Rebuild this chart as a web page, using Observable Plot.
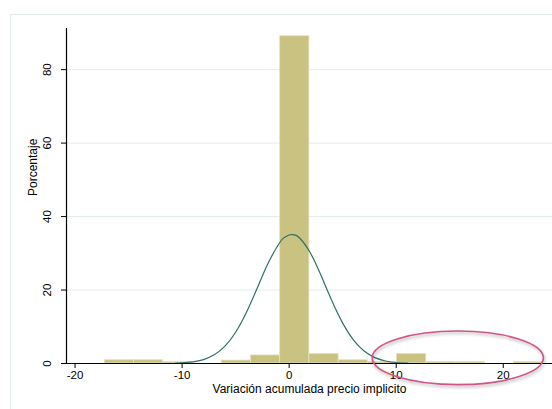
<!DOCTYPE html>
<html>
<head>
<meta charset="utf-8">
<script src="https://cdn.jsdelivr.net/npm/d3@7"></script>
<script src="https://cdn.jsdelivr.net/npm/@observablehq/plot@0.6"></script>
<style>
  html, body { margin: 0; padding: 0; background: #fff; }
  #wrap { position: relative; width: 552px; height: 409px; overflow: hidden; background: #fff; }
  #panel { position: absolute; left: 10px; top: 14px; width: 600px; height: 500px; border: 1px solid #e2ecec; box-sizing: border-box; pointer-events: none; }
  #chart { position: absolute; left: 0; top: 0; }
  #chart svg { background: transparent; }
</style>
</head>
<body>
<div id="wrap"><div id="panel"></div><div id="chart"></div></div>
<script>
// Histogram bins (left edges) and percentages
const binStart = [-17.22, -14.49, -11.76, -9.03, -6.30, -3.57, -0.84, 1.89, 4.62, 7.35, 10.08, 12.81, 15.54, 18.27, 21.00];
const binPct   = [0.9, 0.9, 0.4, 0.0, 0.8, 2.2, 89.1, 2.6, 0.9, 0.4, 2.6, 0.4, 0.4, 0.0, 0.4];
const binWidth = 2.73;

// Fitted normal curve
const curveX = [-10.6, -10, -9, -8, -7, -6, -5, -4, -3, -2, -1, -0.5, 0, 0.25, 0.5, 1, 2, 3, 4, 5, 6, 7, 8, 9, 10, 11.1];
const curveY = [0.1, 0.16, 0.43, 1.06, 2.36, 4.72, 8.52, 13.9, 20.4, 27.1, 32.4, 34.2, 35.0, 35.1, 35.0, 34.1, 30.0, 23.8, 17.0, 11.0, 6.42, 3.38, 1.60, 0.69, 0.27, 0.08];

// Axis ticks and labels
const xTicks = [-20, -10, 0, 10, 20];
const yTicks = [0, 20, 40, 60, 80];
const yGrid = [20, 40, 60, 80];
const xLabel = "Variación acumulada precio implicito";
const yLabel = "Porcentaje";

// Highlight annotation (ellipse) in data units
const annoCenter = [15.8, 1.4];
const annoRadius = [8.0, 7.3];

const bars = binStart.map((s, i) => ({x1: s, x2: s + binWidth, y: binPct[i]})).filter(d => d.y > 0);
const curve = curveX.map((x, i) => ({x, y: curveY[i]}));

const font = "'Liberation Sans', Arial, sans-serif";
const xMin = -20.8;

const plot = Plot.plot({
  width: 552,
  height: 409,
  marginLeft: 66,
  marginTop: 28,
  marginBottom: 46,
  marginRight: 0,
  style: {fontFamily: font, fontSize: "11px", color: "#000", background: "transparent"},
  x: {domain: [xMin, 24.6]},
  y: {domain: [0, 91.2]},
  marks: [
    Plot.gridY(yGrid, {stroke: "#e3ecec", strokeOpacity: 1, strokeWidth: 1}),
    Plot.rectY(bars, {x1: "x1", x2: "x2", y: "y", fill: "#c9c280", stroke: "#e6e2bf", strokeWidth: 0.8}),
    Plot.line(curve, {x: "x", y: "y", curve: "natural", stroke: "#2f6f69", strokeWidth: 1.2}),
    Plot.ruleY([0], {stroke: "#000", strokeWidth: 1.2}),
    Plot.ruleX([xMin], {y1: 0, y2: 91.2, stroke: "#000", strokeWidth: 1.2}),
    Plot.axisX(xTicks, {tickSize: 5, tickPadding: 2, fontSize: 11.5, label: null, tickFormat: d => String(d).replace("−", "-")}),
    Plot.axisY(yTicks, {tickSize: 5, tickFormat: () => "", label: null}),
    Plot.text(yTicks, {x: xMin, y: d => d, dx: -19, rotate: -90, text: d => String(d), fontSize: 11.5}),
    Plot.text([xLabel], {frameAnchor: "bottom", dy: 29, text: d => d, fontSize: 12}),
    Plot.text([yLabel], {frameAnchor: "left", dx: -33, rotate: -90, text: d => d, fontSize: 12})
  ]
});

// Draw annotation ellipse using the plot's own scales
const sx = plot.scale("x"), sy = plot.scale("y");
const cx = sx.apply(annoCenter[0]), cy = sy.apply(annoCenter[1]);
const rx = Math.abs(sx.apply(annoCenter[0] + annoRadius[0]) - cx);
const ry = Math.abs(sy.apply(annoCenter[1] + annoRadius[1]) - cy);
d3.select(plot).append("ellipse")
  .attr("cx", cx).attr("cy", cy).attr("rx", rx).attr("ry", ry)
  .attr("fill", "none").attr("stroke", "#d2548a").attr("stroke-width", 1.6)
  .style("filter", "drop-shadow(1px 2px 1.5px rgba(0,0,0,0.3))");

document.getElementById("chart").appendChild(plot);
</script>
</body>
</html>
